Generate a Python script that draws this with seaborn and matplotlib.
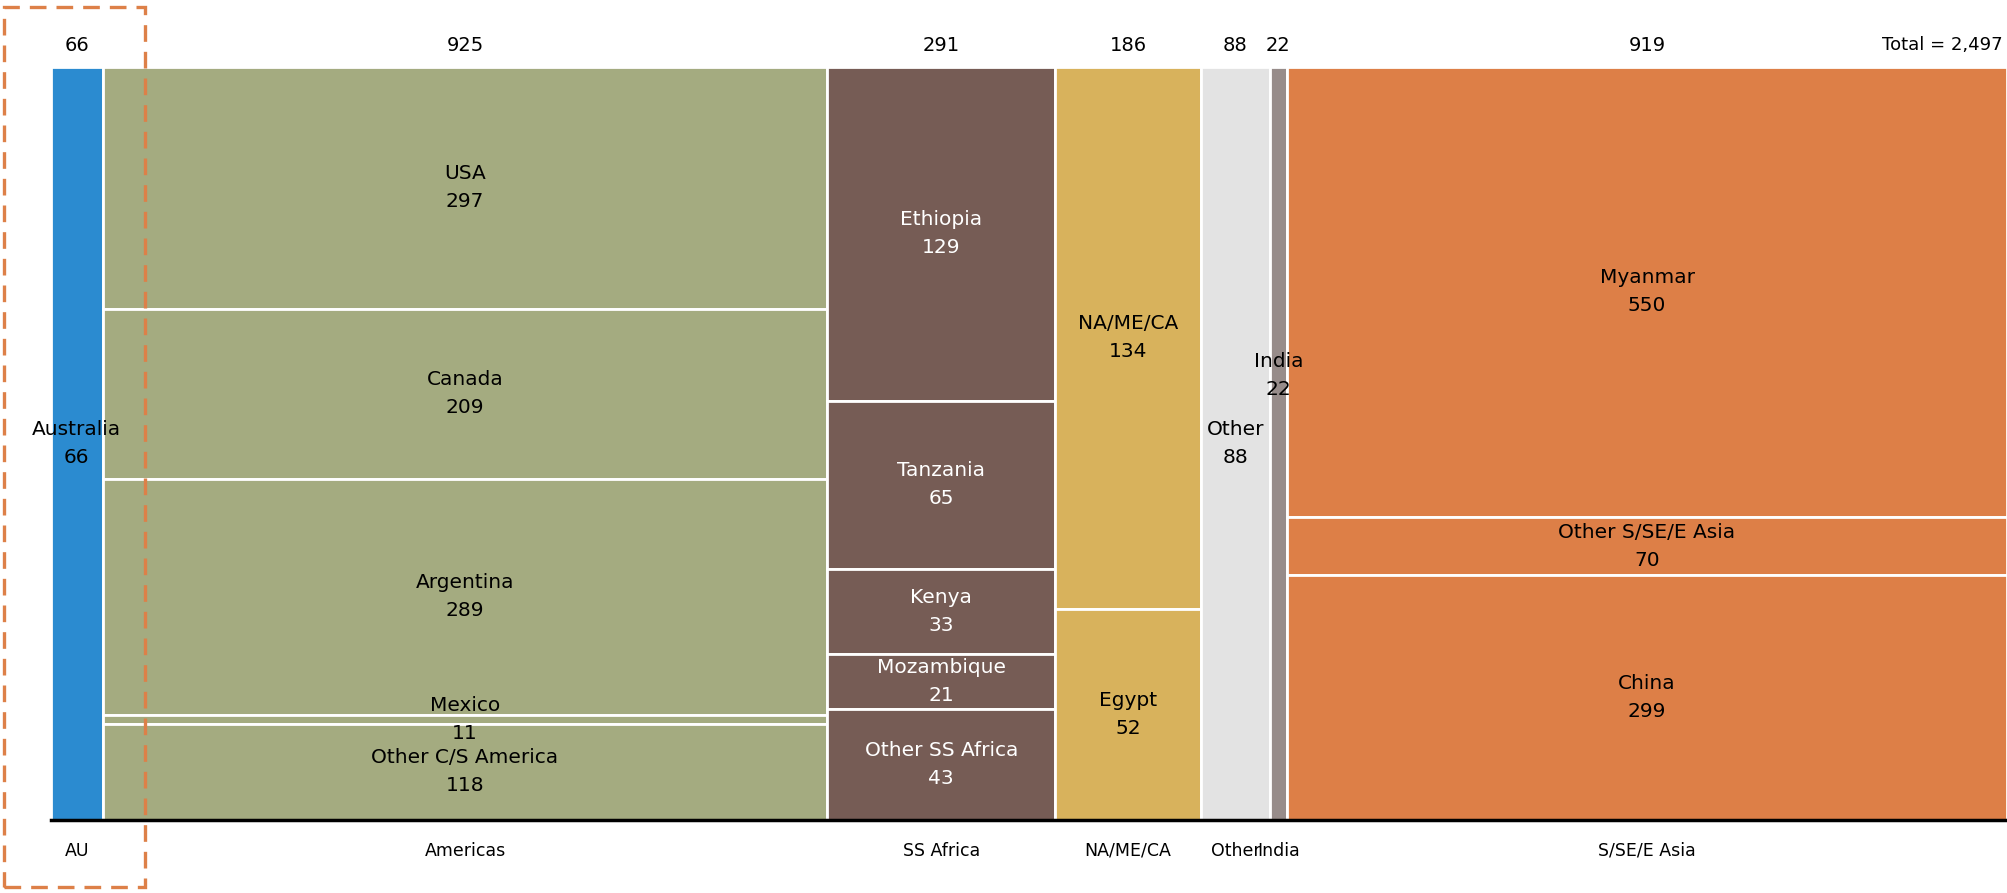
import numpy as np
import seaborn as sns
import matplotlib.pyplot as plt
from matplotlib.patches import Rectangle

# Marimekko data: column widths are the region totals,
# segments inside each column are listed top -> bottom
regions = ["AU", "Americas", "SS Africa", "NA/ME/CA", "Other", "India", "S/SE/E Asia"]
region_totals = [66, 925, 291, 186, 88, 22, 919]
region_colors = ["#2B8BD0", "#A4AB80", "#765C55", "#D8B25C", "#E3E3E3", "#978C8A", "#DD7F47"]

au_names = ["Australia"]
au_values = [66]
americas_names = ["USA", "Canada", "Argentina", "Mexico", "Other C/S America"]
americas_values = [297, 209, 289, 11, 118]
ssafrica_names = ["Ethiopia", "Tanzania", "Kenya", "Mozambique", "Other SS Africa"]
ssafrica_values = [129, 65, 33, 21, 43]
nameca_names = ["NA/ME/CA", "Egypt"]
nameca_values = [134, 52]
other_names = ["Other"]
other_values = [88]
india_names = ["India"]
india_values = [22]
asia_names = ["Myanmar", "Other S/SE/E Asia", "China"]
asia_values = [550, 70, 299]

segment_names = [au_names, americas_names, ssafrica_names, nameca_names,
                 other_names, india_names, asia_names]
segment_values = [au_values, americas_values, ssafrica_values, nameca_values,
                  other_values, india_values, asia_values]
grand_total = sum(region_totals)

sns.set_theme(style="white")
plt.rcParams['font.family'] = ['DejaVu Sans']
plt.rcParams['text.color'] = 'black'

fig = plt.figure(figsize=(20.07, 8.93), dpi=100)
ax = fig.add_axes([51 / 2007, 73 / 893, 1 - 51 / 2007, 753.5 / 893])

x_left = np.concatenate([[0], np.cumsum(region_totals)[:-1]])
for i, region in enumerate(regions):
    vals = np.array(segment_values[i], dtype=float)
    shares = vals / vals.sum()
    tops = 1 - np.concatenate([[0], np.cumsum(shares)[:-1]])
    bottoms = tops - shares
    ax.bar([x_left[i]] * len(vals), shares, width=region_totals[i], bottom=bottoms,
           align="edge", color=region_colors[i], edgecolor="white", linewidth=2)
    txt_color = "white" if region == "SS Africa" else "black"
    xc = x_left[i] + region_totals[i] / 2
    for name, v, b, s in zip(segment_names[i], segment_values[i], bottoms, shares):
        yc = b + s / 2
        if region == "India":
            yc = 0.59  # lifted so it does not collide with the "Other" label
        ax.text(xc, yc, f"{name}\n{v}", ha="center", va="center", fontsize=14.5,
                color=txt_color, linespacing=1.6)
    # column total on top, region name below
    ax.text(xc, 1.0285, f"{region_totals[i]}", ha="center", va="center", fontsize=14,
            transform=ax.get_xaxis_transform())
    ax.text(xc, -0.041, region, ha="center", va="center", fontsize=12.5,
            family=['Liberation Sans Narrow', 'DejaVu Sans'],
            transform=ax.get_xaxis_transform())

ax.text(grand_total - 5, 1.0285, f"Total = {grand_total:,}", ha="right", va="center",
        fontsize=13, transform=ax.get_xaxis_transform())

ax.set_xlim(0, grand_total)
ax.set_ylim(0, 1)
ax.set_xticks([])
ax.set_yticks([])
for side in ["top", "right", "left"]:
    ax.spines[side].set_visible(False)
ax.spines["bottom"].set_color("black")
ax.spines["bottom"].set_linewidth(2.5)

# dashed highlight box around the AU column
box = Rectangle((4 / 2007, 6 / 893), 141 / 2007, 880 / 893, transform=fig.transFigure,
                fill=False, edgecolor="#DD8048", linewidth=2.4, linestyle=(0, (5, 3)),
                clip_on=False)
fig.patches.append(box)

fig.savefig("out.png", dpi=100)
